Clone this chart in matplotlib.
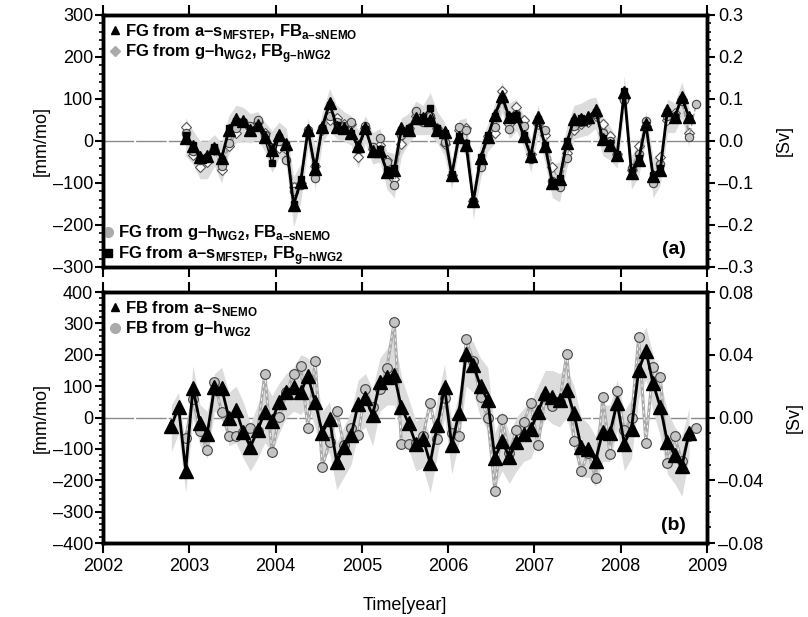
import numpy as np
import matplotlib
matplotlib.use("Agg")
import matplotlib.pyplot as plt
from matplotlib.lines import Line2D

plt.rcParams['font.family'] = ['Liberation Sans', 'DejaVu Sans']
plt.rcParams['mathtext.fontset'] = 'custom'
plt.rcParams['mathtext.rm'] = 'Liberation Sans'
plt.rcParams['mathtext.bf'] = 'Liberation Sans:bold'

# monthly time axis, Oct 2002 .. Nov 2008
months = np.arange(74)
time = 2002 + (9.5 + months) / 12.0

# ---- panel (a): freshwater gain, months 2..72 (circles to 73)
fg_as_fbas = [6, -13, -37, -36, -17, -40, 26, 52, 48, 26,
              38, 10, -21, 14, -6, -152, -97, 26, -67, 34,
              91, 34, 30, 18, -13, 30, -25, -25, -73, -69,
              30, 26, 54, 54, 50, 26, 22, -81, 10, -10,
              -144, -41, 10, 62, 107, 56, 60, 12, -36, 56,
              -13, -101, -90, -4, 52, 52, 56, 74, 4, -10,
              -33, 117, -77, -45, 40, -83, -69, 74, 56, 105, 56]
fg_gh_fbgh = [33, -33, -61, -49, -22, -69, -13, 18, 45, 30,
              45, 20, -17, -17, -20, -109, -100, 20, -60, 25,
              50, 54, 40, 40, -37, 30, -20, -10, -45, -90,
              -6, 30, 60, 50, 55, 30, -6, -80, 25, 30,
              -144, -50, 12, 18, 119, 40, 80, 50, -30, 40,
              15, -61, -100, -29, 26, 40, 46, 60, 41, 12,
              -30, 100, -70, -13, 35, -90, -38, 50, 66, 100, 20]
fg_gh_fbas = [20, -25, -45, -40, -20, -60, -5, 30, 45, 35,
              50, 15, -25, 0, -45, -120, -105, 25, -89, 30,
              60, 45, 35, 46, -20, 35, -15, 6, -49, -105,
              15, 25, 72, 45, 60, 25, -2, -85, 33, 25,
              -144, -61, 5, 33, 100, 28, 65, 35, -44, 45,
              26, -95, -110, -40, 35, 45, 50, 65, 20, 0,
              -35, 98, -64, -30, 48, -101, -55, 60, 60, 95, 10, 88]
fg_as_fbgh = [15, -10, -40, -38, -15, -45, 30, 48, 45, 25,
              35, 5, -53, 10, -10, -150, -90, 20, -60, 30,
              85, 38, 28, 20, -20, 28, -28, -20, -70, -65,
              25, 30, 50, 58, 78, 30, 20, -78, 12, -5,
              -144, -38, 15, 60, 100, 60, 62, 15, -35, 52,
              -10, -98, -88, 0, 48, 55, 52, 70, 8, -5,
              -30, 120, -75, -40, 38, -80, -65, 70, 58, 100, 55]
band_a_hi = [55, 25, 0, 0, 15, -5, 60, 85, 80, 65,
             70, 45, 25, 45, 30, -85, -55, 55, -15, 70,
             125, 85, 70, 60, 25, 60, 20, 30, -25, -30,
             55, 65, 95, 85, 115, 70, 45, -45, 50, 55,
             -105, -5, 40, 90, 140, 90, 100, 60, 5, 85,
             25, -55, -50, 35, 85, 90, 100, 105, 60, 35,
             5, 155, -35, -5, 70, -40, -25, 100, 90, 140, 80]
band_a_lo = [-35, -55, -90, -90, -60, -100, -30, -5, 0, -5,
             5, -25, -75, -40, -60, -205, -145, -15, -115, -5,
             25, 5, 0, -10, -65, -5, -55, -50, -115, -135,
             -35, -5, 15, 15, 15, -5, -35, -115, -15, -35,
             -185, -90, -25, -5, 70, 5, 25, -15, -75, 15,
             -55, -135, -145, -65, 5, 10, 15, 30, -35, -45,
             -65, 75, -115, -85, 5, -135, -105, 20, 20, 55, -15]

# ---- panel (b): freshwater budget
fb_as = [-28, 34, -169, 93, -17, -51, 96, 93, 0, 23,
         -46, -94, -41, 18, -11, 50, 82, 96, 82, 131,
         50, -48, -5, -143, -94, -57, 44, 61, 7, 114,
         130, 135, 32, -19, -83, -67, -145, -25, 98, -89,
         15, 203, 167, 100, 55, -129, -75, -126, -78, -53,
         -38, 18, 77, 66, 57, 87, 13, -94, -99, -137,
         -46, -49, 47, -83, -35, 151, 213, 109, 34, -78,
         -118, -156, -49]
# months 2..73
fb_gh = [-64, 60, -44, -105, 113, 17, -58, -60, -45, -33,
         -43, 139, -110, 2, 80, 139, 164, -33, 180, -157,
         -78, 20, -89, -33, -56, 91, 32, 90, 159, 306,
         -84, -83, -80, -60, 47, -67, 61, -49, -60, 250,
         180, 66, 0, -235, -6, -112, -41, -14, 45, -89,
         70, 36, 50, 203, -75, -169, -113, -193, 64, -115,
         84, -41, -3, 256, -80, 162, 130, -145, -60, -140,
         -59, -33]
band_b_hi = [40, 80, -90, 165, 40, 20, 140, 160, 80, 100,
             50, -20, 40, 110, 70, 110, 140, 160, 200, 190,
             140, 20, 50, -80, -30, 20, 120, 140, 90, 190,
             220, 260, 130, 60, -10, 0, -60, 60, 170, -20,
             80, 260, 240, 190, 160, -50, 20, -50, 0, 30,
             50, 100, 150, 150, 140, 160, 100, 0, -20, -60,
             40, 40, 120, 20, 60, 220, 290, 200, 120, 20,
             -30, -60, 30]
band_b_lo = [-110, -50, -240, 0, -90, -130, 20, 10, -90, -80,
             -130, -170, -130, -80, -110, -50, 0, 20, 10, 40,
             -30, -130, -110, -230, -190, -150, -50, -30, -90, 20,
             40, 40, -60, -100, -170, -160, -240, -120, 0, -180,
             -80, 100, 80, 0, -40, -220, -170, -210, -170, -140,
             -130, -70, 0, -20, -30, 0, -90, -190, -190, -220,
             -140, -140, -40, -170, -130, 60, 120, 20, -60, -180,
             -210, -250, -130]

years = list(range(2002, 2010))
band_col = '#dcdcdc'
circ_col = '#c4c4c4'

fig = plt.figure(figsize=(8.08, 6.17), dpi=100)
ax_a = fig.add_axes([0.1275, 0.5673, 0.7475, 0.4084])
ax_b = fig.add_axes([0.1275, 0.1199, 0.7475, 0.4068])


def style_axes(ax, ylim, major, minor):
    ax.set_xlim(2002, 2009)
    ax.set_ylim(*ylim)
    ax.set_xticks(years)
    ax.set_yticks(np.arange(ylim[0], ylim[1] + 1, major))
    ax.set_yticks(np.arange(ylim[0], ylim[1] + 1, minor), minor=True)
    ax.set_yticklabels([str(v).replace('-', '\u2013')
                        for v in np.arange(ylim[0], ylim[1] + 1, major)])
    ax.tick_params(axis='x', which='major', direction='out', length=7, width=1.5,
                   top=True, labelsize=13)
    ax.tick_params(axis='y', which='major', direction='out', length=6, width=1.5,
                   labelsize=13, pad=1)
    ax.tick_params(axis='y', which='minor', direction='out', length=3, width=1.2)
    for s in ax.spines.values():
        s.set_linewidth(2.5)
    ax.axhline(0, color='#8a8a8a', lw=1, ls=(0, (22, 1.5)), zorder=1)
    ax.set_ylabel('[mm/mo]', fontsize=13, labelpad=2)


def right_axis(ax, lim, major, minor, fmt):
    r = ax.twinx()
    r.set_ylim(-lim, lim)
    r.set_yticks(np.arange(-lim, lim + major / 2, major))
    r.set_yticks(np.arange(-lim, lim + minor / 2, minor), minor=True)
    r.set_yticklabels([fmt.format(v).replace('-', '\u2013') for v in
                       np.arange(-lim, lim + major / 2, major)])
    r.tick_params(axis='y', which='major', direction='out', length=6, width=1.5,
                  labelsize=13, pad=2)
    r.tick_params(axis='y', which='minor', direction='out', length=3, width=1.2)
    for s in r.spines.values():
        s.set_linewidth(2.5)
    r.set_ylabel('[Sv]', fontsize=13, labelpad=16)
    return r


# panel (a)
ta = time[2:73]
ax_a.fill_between(ta, band_a_lo, band_a_hi, color=band_col, lw=0, zorder=2)
ax_a.plot(ta, fg_gh_fbgh, color='#999999', lw=1, ls='--', marker='D', ms=5,
          mfc='white', mec='#555555', mew=0.8, zorder=3)
ax_a.plot(time[2:74], fg_gh_fbas, color='#999999', lw=1, ls='--', marker='o', ms=6,
          mfc=circ_col, mec='#444444', mew=0.8, zorder=3)
ax_a.plot(ta, fg_as_fbgh, color='black', lw=1, marker='s', ms=5,
          mfc='black', mec='black', zorder=4)
ax_a.plot(ta, fg_as_fbas, color='black', lw=2, marker='^', ms=8.5,
          mfc='black', mec='black', zorder=5)
style_axes(ax_a, (-300, 300), 100, 20)
ax_a.tick_params(axis='x', labelbottom=False)
right_axis(ax_a, 0.3, 0.1, 0.02, '{:.1f}')
ax_a.text(0.965, 0.035, '(a)', transform=ax_a.transAxes, ha='right', va='bottom',
          fontsize=14, fontweight='bold')

h_tri = Line2D([], [], ls='none', marker='^', ms=6, color='black')
h_dia = Line2D([], [], ls='none', marker='D', ms=5, color='#aaaaaa')
h_cir = Line2D([], [], ls='none', marker='o', ms=7, color='#aaaaaa')
h_sq = Line2D([], [], ls='none', marker='s', ms=6, color='black')
leg_kw = dict(frameon=False, handlelength=0.6, handletextpad=0.3, labelspacing=0.1,
              prop=dict(size=12, weight='bold'))
leg1 = ax_a.legend([h_tri, h_dia],
                   ['FG from a\u2013s$_{\\mathbf{MFSTEP}}$, FB$_{\\mathbf{a\u2013sNEMO}}$',
                    'FG from g\u2013h$_{\\mathbf{WG2}}$, FB$_{\\mathbf{g\u2013hWG2}}$'],
                   loc='upper left', borderaxespad=0.2, borderpad=0.2, **leg_kw)
ax_a.add_artist(leg1)
ax_a.legend([h_cir, h_sq],
            ['FG from g\u2013h$_{\\mathbf{WG2}}$, FB$_{\\mathbf{a\u2013sNEMO}}$',
             'FG from a\u2013s$_{\\mathbf{MFSTEP}}$, FB$_{\\mathbf{g\u2013hWG2}}$'],
            loc='lower left', borderaxespad=0.0, borderpad=0.0, **leg_kw)

# panel (b)
ax_b.fill_between(time[:73], band_b_lo, band_b_hi, color=band_col, lw=0, zorder=2)
ax_b.plot(time[2:74], fb_gh, color='#aaaaaa', lw=2.2, zorder=3)
ax_b.plot(time[2:74], fb_gh, color='white', lw=0.6, ls=(0, (4, 4)), marker='o', ms=7,
          mfc=circ_col, mec='#444444', mew=0.8, zorder=3)
ax_b.plot(time[:73], fb_as, color='black', lw=2, marker='^', ms=9.5,
          mfc='black', mec='black', zorder=4)
style_axes(ax_b, (-400, 400), 100, 20)
right_axis(ax_b, 0.08, 0.04, 0.01, '{:.2f}')
ax_b.set_xlabel('Time[year]', fontsize=13, labelpad=16)
ax_b.text(0.965, 0.035, '(b)', transform=ax_b.transAxes, ha='right', va='bottom',
          fontsize=14, fontweight='bold')
ax_b.legend([h_tri, h_cir],
            ['FB from a\u2013s$_{\\mathbf{NEMO}}$', 'FB from g\u2013h$_{\\mathbf{WG2}}$'],
            loc='upper left', borderaxespad=0.2, borderpad=0.2, **leg_kw)

fig.savefig('out.png', dpi=100)
